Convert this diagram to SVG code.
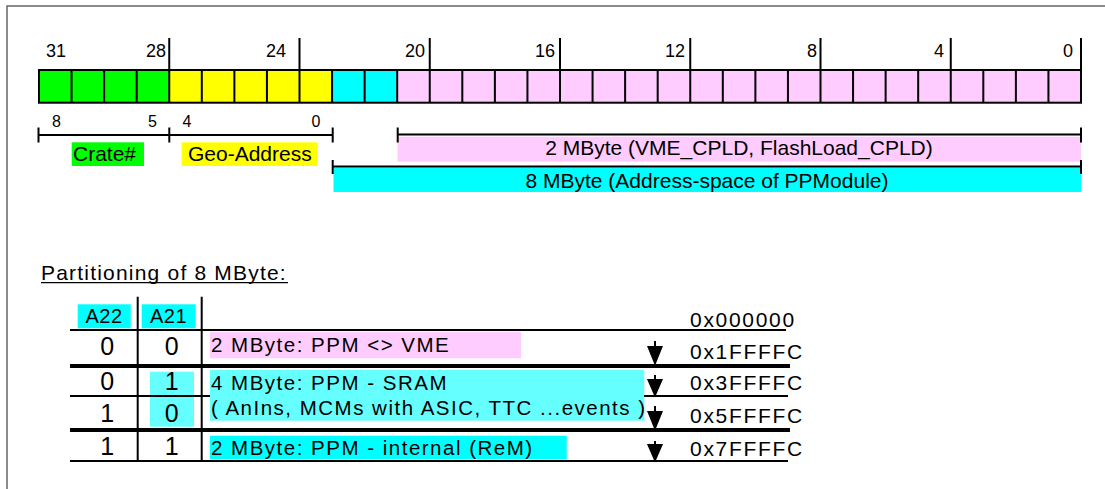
<svg xmlns="http://www.w3.org/2000/svg" width="1105" height="489" viewBox="0 0 1105 489">
<style>
text{font-family:"Liberation Sans",Arial,sans-serif;fill:#000}
.num{font-size:18px}
.small{font-size:16px;text-anchor:middle}
.lbl{font-size:21px}
.tbl{font-size:20.5px;letter-spacing:1.5px}
.hex{font-size:21px;letter-spacing:1.7px}
.dig{font-size:25px;text-anchor:middle}
.hdr{font-size:20px;letter-spacing:0.5px;text-anchor:middle}
.ln{stroke:#000;stroke-width:2;fill:none}
.thick{stroke:#000;stroke-width:4;fill:none}
.thin{stroke:#000;stroke-width:2;fill:none}
.arrow{stroke:#000;stroke-width:2;fill:#000}
</style>
<rect width="1105" height="489" fill="#fff"/>
<g id="frame">
<path d="M7,489 V6 H1105" fill="none" stroke="#666" stroke-width="1.5"/>
</g>
<g id="bitbar">
<rect x="39" y="70" width="130.25" height="32.7" fill="#00ff00"/>
<rect x="169.25" y="70" width="162.81" height="32.7" fill="#ffff00"/>
<rect x="332.06" y="70" width="65.13" height="32.7" fill="#00ffff"/>
<rect x="397.19" y="70" width="683.81" height="32.7" fill="#ffccff"/>
<rect x="39" y="70" width="1042" height="32.7" class="ln"/>
<path class="ln" d="M71.56,70v32.7M104.13,70v32.7M136.69,70v32.7M169.25,70v32.7M201.81,70v32.7M234.38,70v32.7M266.94,70v32.7M299.5,70v32.7M332.06,70v32.7M364.63,70v32.7M397.19,70v32.7M429.75,70v32.7M462.31,70v32.7M494.88,70v32.7M527.44,70v32.7M560,70v32.7M592.56,70v32.7M625.13,70v32.7M657.69,70v32.7M690.25,70v32.7M722.81,70v32.7M755.38,70v32.7M787.94,70v32.7M820.5,70v32.7M853.06,70v32.7M885.63,70v32.7M918.19,70v32.7M950.75,70v32.7M983.31,70v32.7M1015.88,70v32.7M1048.44,70v32.7"/>
<path class="ln" d="M169.25,38V70M299.5,38V70M429.75,38V70M560,38V70M690.25,38V70M820.5,38V70M950.75,38V70M1081,38V70"/>
</g>
<g id="bitnumbers" class="num" text-anchor="end">
<text x="66" y="56.5">31</text>
<text x="166" y="56.5">28</text>
<text x="286" y="56.5">24</text>
<text x="425" y="56.5">20</text>
<text x="555" y="56.5">16</text>
<text x="685" y="56.5">12</text>
<text x="817" y="56.5">8</text>
<text x="944" y="56.5">4</text>
<text x="1073" y="56.5">0</text>
</g>
<g id="crate-range">
<path class="ln" stroke-width="2.5" d="M38.5,135H332.5M38.5,127.5v15M169.3,127.5v15M332.7,127.5v15"/>
<text class="small" x="56.5" y="126.5">8</text>
<text class="small" x="152.5" y="126.5">5</text>
<text class="small" x="187" y="126.5">4</text>
<text class="small" x="316" y="126.5">0</text>
</g>
<g id="crate">
<rect x="71.7" y="142.3" width="72.3" height="23.7" fill="#00ff00"/>
<text class="lbl" x="73" y="160.7">Crate#</text>
</g>
<g id="geo">
<rect x="181.7" y="142.3" width="136" height="23.7" fill="#ffff00"/>
<text class="lbl" x="188" y="160.7">Geo-Address</text>
</g>
<g id="range-2mb">
<rect x="397.5" y="136.7" width="683.5" height="25" fill="#ffccff"/>
<path class="ln" stroke-width="2.5" d="M397.7,134.5H1081M397.7,127.5v15M1081,127.5v15"/>
<text class="lbl" x="739" y="155" text-anchor="middle">2 MByte (VME_CPLD, FlashLoad_CPLD)</text>
</g>
<g id="range-8mb">
<rect x="333.5" y="167.5" width="747.5" height="24.5" fill="#00ffff"/>
<path class="ln" stroke-width="2.5" d="M332.7,166.5H1081M332.7,160v14M1081,160v14"/>
<text class="lbl" x="707" y="187.7" text-anchor="middle">8 MByte (Address-space of PPModule)</text>
</g>
<g id="title">
<text x="41" y="280" font-size="21" letter-spacing="1.2">Partitioning of 8 MByte:</text>
<path d="M41,282.7H288" stroke="#000" stroke-width="1.3"/>
</g>
<g id="table-header">
<rect x="77.7" y="304.3" width="53" height="24" fill="#00ffff"/>
<text class="hdr" x="104" y="323.3">A22</text>
<rect x="141.7" y="304.3" width="54" height="24" fill="#00ffff"/>
<text class="hdr" x="168.5" y="323.3">A21</text>
</g>
<g id="row-vme">
<rect x="210" y="331.7" width="311" height="26.6" fill="#ffccff"/>
<text class="dig" x="107.3" y="355">0</text>
<text class="dig" x="171.7" y="355">0</text>
<text class="tbl" x="211" y="352.3">2 MByte: PPM &lt;&gt; VME</text>
</g>
<g id="row-sram">
<rect x="150" y="371.7" width="44" height="55" fill="#66ffff"/>
<rect x="210" y="370" width="434.3" height="50.7" fill="#66ffff"/>
<text class="dig" x="107.3" y="390">0</text>
<text class="dig" x="171.7" y="390">1</text>
<text class="dig" x="107.3" y="422">1</text>
<text class="dig" x="171.7" y="422">0</text>
<text class="tbl" x="211" y="390">4 MByte: PPM - SRAM</text>
<text class="tbl" x="211" y="415">( AnIns, MCMs with ASIC, TTC ...events )</text>
</g>
<g id="row-rem">
<rect x="210" y="435.7" width="356.7" height="23.6" fill="#00ffff"/>
<text class="dig" x="107.3" y="455">1</text>
<text class="dig" x="171.7" y="455">1</text>
<text class="tbl" x="211" y="455">2 MByte: PPM - internal (ReM)</text>
</g>
<g id="table-lines">
<path class="thin" d="M70,330H786M70,396H210M644,396H788M70,461H788"/>
<path class="thick" d="M70,366H790M70,430H790"/>
<path class="ln" stroke-width="2.5" d="M137.7,296.7V462M201.7,296.7V462"/>
</g>
<g id="addresses" class="hex">
<text x="690" y="326.7">0x000000</text>
<text x="690" y="359">0x1FFFFC</text>
<text x="690" y="390">0x3FFFFC</text>
<text x="690" y="423.3">0x5FFFFC</text>
<text x="690" y="455.7">0x7FFFFC</text>
</g>
<g id="connectors">
<path class="arrow" d="M655,341V350"/><path class="arrow" stroke-width="1" d="M648.5,347H661.5L655,363Z"/>
<path class="arrow" d="M655,375V383"/><path class="arrow" stroke-width="1" d="M648.5,380H661.5L655,395Z"/>
<path class="arrow" d="M655,406V415"/><path class="arrow" stroke-width="1" d="M648.5,412H661.5L655,428Z"/>
<path class="arrow" d="M655,441V448"/><path class="arrow" stroke-width="1" d="M648.5,445H661.5L655,460Z"/>
</g>
</svg>
